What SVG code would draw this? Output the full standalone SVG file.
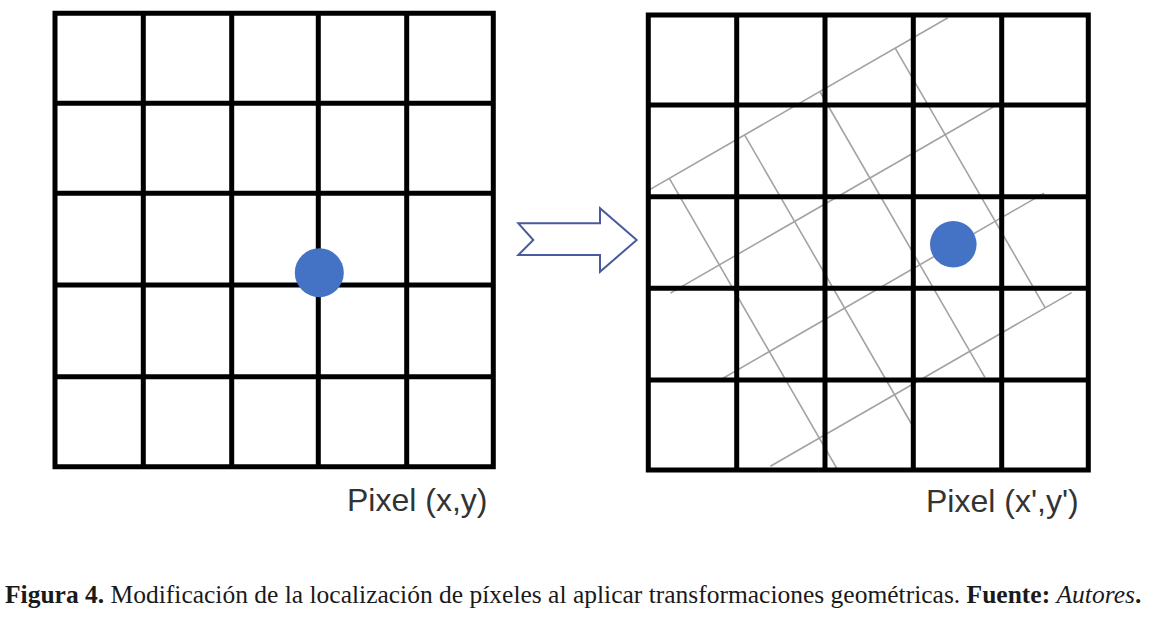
<svg xmlns="http://www.w3.org/2000/svg" width="1155" height="617" viewBox="0 0 1155 617">
  <style>
    .grid { stroke: #000; stroke-width: 5; fill: none; stroke-linecap: square; }
    .rot { stroke: #a3a3a3; stroke-width: 1.6; fill: none; }
    .dot { fill: #4472c4; }
    .label { font-family: "Liberation Sans", Arial, sans-serif; font-size: 32px; fill: #333; }
    .cap { font-family: "Liberation Serif", "Times New Roman", serif; font-size: 25.5px; fill: #1a1a1a; }
    .arrow { fill: #fff; stroke: #4a5a9e; stroke-width: 2; stroke-linejoin: miter; }
  </style>
  <defs>
    <clipPath id="rightBox">
      <rect x="648" y="15" width="440" height="455"/>
    </clipPath>
  </defs>
  <rect width="1155" height="617" fill="#fff"/>

  <g id="grid-left">
    <path class="grid" d="M55,13.3 V466.7 M143.3,13.3 V466.7 M231.7,13.3 V466.7 M318.3,13.3 V466.7 M406.7,13.3 V466.7 M493.3,13.3 V466.7 M55,13.3 H493.3 M55,103.3 H493.3 M55,193.3 H493.3 M55,285 H493.3 M55,376.7 H493.3 M55,466.7 H493.3"/>
    <circle class="dot" cx="319.3" cy="272.7" r="24.5"/>
    <text class="label" x="347" y="511">Pixel (x,y)</text>
  </g>

  <g id="connectors">
    <polygon class="arrow" points="518.3,223.3 600,223.3 600,208.3 636.7,240 600,271.7 600,255 518.3,255 533.3,240"/>
  </g>

  <g id="grid-right">
    <g clip-path="url(#rightBox)">
      <path class="rot" d="M620.4,206.5 L947.9,17.7 M670.4,293.1 L994.1,106.5 M720.4,379.7 L1044.1,193.1 M770.4,466.3 L1071.6,292.6 M669.3,178.3 L839.3,472.7 M744.6,134.9 L912.1,425 M819.9,91.5 L984.9,377.3 M895.2,48.1 L1045.2,307.9"/>
    </g>
    <path class="grid" d="M648.3,15 V470 M736.7,15 V470 M825,15 V470 M913.3,15 V470 M1001.7,15 V470 M1088.3,15 V470 M648.3,15 H1088.3 M648.3,105 H1088.3 M648.3,196.7 H1088.3 M648.3,288.3 H1088.3 M648.3,380 H1088.3 M648.3,470 H1088.3"/>
    <circle class="dot" cx="953.3" cy="244.3" r="23.3"/>
    <text class="label" x="926" y="512">Pixel (x',y')</text>
  </g>

  <g id="caption">
    <text class="cap" x="5" y="603"><tspan font-weight="bold">Figura 4.</tspan> Modificación de la localización de píxeles al aplicar transformaciones geométricas. <tspan font-weight="bold">Fuente:</tspan> <tspan font-style="italic">Autores</tspan><tspan font-weight="bold">.</tspan></text>
  </g>
</svg>
